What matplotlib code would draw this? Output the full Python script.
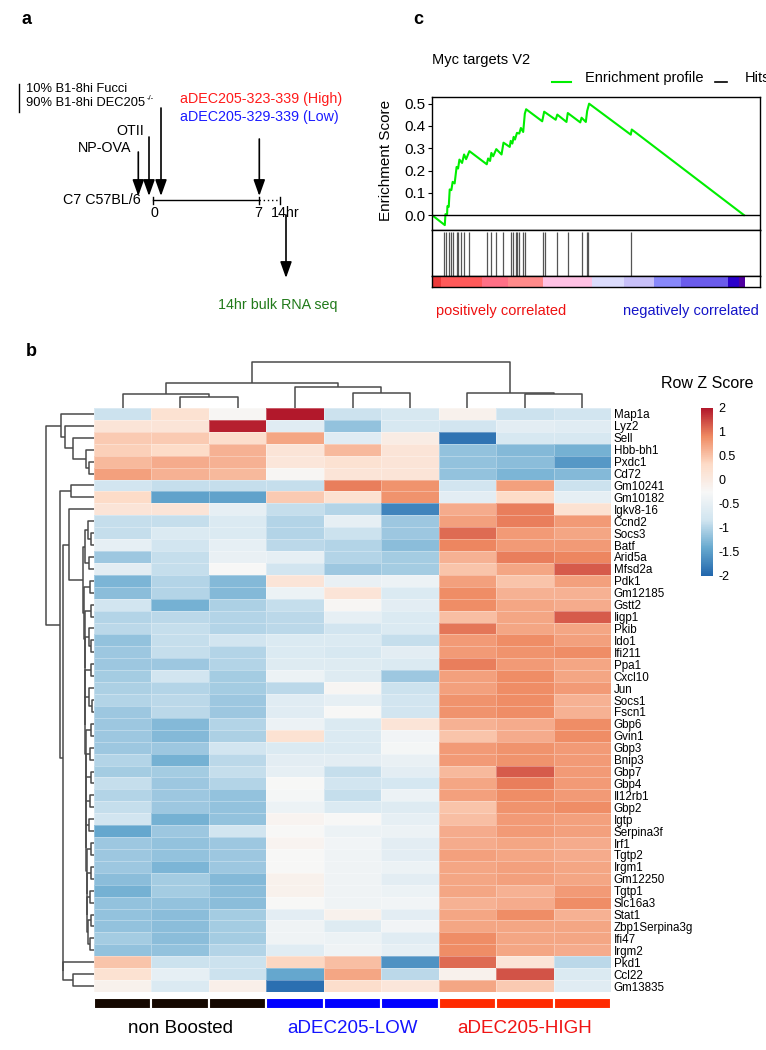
import numpy as np
import matplotlib
matplotlib.use("Agg")
import matplotlib.pyplot as plt
from matplotlib.colors import LinearSegmentedColormap, Normalize
from matplotlib.cm import ScalarMappable

plt.rcParams['font.family'] = ['Liberation Sans', 'DejaVu Sans']

# ---------------- data ----------------
genes = ['Map1a', 'Lyz2', 'Sell', 'Hbb-bh1', 'Pxdc1', 'Cd72', 'Gm10241', 'Gm10182',
         'Igkv8-16', 'Ccnd2', 'Socs3', 'Batf', 'Arid5a', 'Mfsd2a', 'Pdk1', 'Gm12185',
         'Gstt2', 'Iigp1', 'Pkib', 'Ido1', 'Ifi211', 'Ppa1', 'Cxcl10', 'Jun', 'Socs1',
         'Fscn1', 'Gbp6', 'Gvin1', 'Gbp3', 'Bnip3', 'Gbp7', 'Gbp4', 'Il12rb1', 'Gbp2',
         'Igtp', 'Serpina3f', 'Irf1', 'Tgtp2', 'Irgm1', 'Gm12250', 'Tgtp1', 'Slc16a3',
         'Stat1', 'Zbp1Serpina3g', 'Ifi47', 'Irgm2', 'Pkd1', 'Ccl22', 'Gm13835']

zscores = [
    [-0.7, 0.5, 0.05, 2.0, -0.7, -0.55, 0.15, -0.7, -0.65],
    [0.45, 0.45, 1.95, -0.4, -1.05, -0.55, -0.65, -0.35, -0.4],
    [0.8, 0.8, 0.6, 1.1, -0.4, 0.25, -1.85, -0.55, -0.55],
    [0.75, 0.65, 1.0, 0.45, 0.95, 0.45, -1.05, -1.15, -1.25],
    [0.95, 1.05, 1.0, 0.4, 0.5, 0.45, -1.05, -1.1, -1.5],
    [1.15, 1.0, 0.95, 0.05, 0.45, 0.45, -1.05, -1.2, -1.15],
    [-0.65, -0.75, -0.75, -0.75, 1.4, 1.25, -0.65, 1.15, -0.7],
    [0.65, -1.4, -1.4, 0.8, 0.5, 1.25, -0.35, 0.65, -0.3],
    [0.45, 0.45, -0.3, -0.75, -0.85, -1.7, 1.05, 1.4, 0.5],
    [-0.75, -0.75, -0.5, -0.85, -0.3, -1.0, 1.15, 1.4, 1.2],
    [-0.75, -0.5, -0.5, -0.85, -0.7, -1.0, 1.5, 1.2, 1.1],
    [-0.3, -0.65, -0.3, -0.8, -0.85, -1.1, 1.35, 1.2, 1.2],
    [-1.0, -0.75, -0.25, -0.3, -0.85, -0.95, 1.0, 1.4, 1.35],
    [-0.35, -0.75, 0.0, -0.65, -1.0, -0.95, 0.85, 1.1, 1.6],
    [-1.2, -0.85, -1.15, 0.45, -0.25, -0.2, 1.15, 0.85, 1.15],
    [-1.1, -0.85, -1.15, -0.2, 0.45, -0.5, 1.3, 1.0, 1.0],
    [-0.65, -1.25, -0.9, -0.75, 0.05, -0.35, 1.3, 1.1, 1.05],
    [-0.85, -0.8, -0.85, -0.8, -0.3, -0.5, 0.9, 1.1, 1.6],
    [-0.8, -0.75, -0.85, -0.8, -0.65, -0.5, 1.45, 1.1, 1.1],
    [-1.05, -0.75, -0.65, -0.5, -0.5, -0.75, 1.2, 1.3, 1.15],
    [-1.0, -0.75, -0.85, -0.5, -0.55, -0.35, 1.2, 1.25, 1.3],
    [-1.0, -1.0, -0.85, -0.45, -0.45, -0.5, 1.4, 1.2, 1.1],
    [-0.95, -0.65, -0.95, -0.2, -0.45, -1.0, 1.15, 1.3, 1.1],
    [-0.9, -0.85, -0.95, -0.8, 0.05, -0.7, 1.15, 1.3, 1.2],
    [-0.85, -0.8, -1.0, -0.4, -0.3, -0.65, 1.25, 1.3, 1.0],
    [-1.0, -0.8, -1.0, -0.4, 0.0, -0.65, 1.25, 1.3, 1.0],
    [-1.0, -1.15, -0.85, -0.2, -0.5, 0.45, 1.0, 1.05, 1.3],
    [-1.0, -1.15, -0.9, 0.5, -0.5, -0.1, 0.85, 1.05, 1.3],
    [-1.0, -1.0, -0.65, -0.5, -0.5, -0.05, 1.2, 1.25, 1.2],
    [-0.85, -1.25, -0.8, -0.35, -0.35, -0.25, 1.2, 1.25, 1.2],
    [-0.95, -0.95, -0.75, -0.3, -0.75, -0.35, 0.95, 1.6, 1.2],
    [-0.75, -1.0, -0.85, 0.0, -0.65, -0.6, 1.1, 1.4, 1.2],
    [-0.85, -1.0, -1.05, -0.05, -0.75, -0.2, 1.15, 1.3, 1.2],
    [-0.75, -1.0, -1.05, -0.2, -0.5, -0.45, 0.85, 1.25, 1.3],
    [-0.65, -1.25, -1.05, 0.1, 0.0, -0.3, 0.9, 1.2, 1.15],
    [-1.35, -1.0, -0.65, 0.0, -0.2, -0.2, 1.05, 1.2, 1.15],
    [-1.0, -1.05, -1.0, 0.1, -0.1, -0.35, 1.05, 1.1, 1.05],
    [-1.0, -1.05, -1.0, 0.0, -0.15, -0.35, 1.15, 1.1, 1.05],
    [-1.0, -1.2, -1.0, 0.0, -0.15, -0.2, 1.1, 1.15, 1.1],
    [-1.1, -0.95, -1.15, 0.15, -0.15, -0.35, 1.1, 1.15, 1.1],
    [-1.25, -0.95, -1.1, 0.15, -0.15, -0.2, 1.1, 1.0, 1.2],
    [-1.05, -1.05, -1.1, 0.0, -0.15, -0.1, 1.0, 1.05, 1.3],
    [-1.05, -1.1, -0.95, -0.35, 0.15, -0.35, 1.1, 1.3, 1.0],
    [-1.05, -1.1, -0.95, -0.15, -0.45, -0.1, 1.1, 1.1, 1.1],
    [-0.95, -1.1, -0.95, -0.15, -0.2, -0.4, 1.3, 1.1, 1.1],
    [-1.05, -1.05, -0.85, -0.4, -0.15, -0.3, 1.3, 1.1, 1.05],
    [0.85, -0.7, -0.7, 0.7, 0.9, -1.55, 1.5, 0.45, -0.8],
    [0.5, -0.3, -0.7, -1.35, 1.1, -0.8, 0.15, 1.65, -0.5],
    [0.15, -0.5, 0.2, -1.9, 0.6, 0.4, 1.1, 0.8, -0.4],
]

groups = ['non Boosted'] * 3 + ['aDEC205-LOW'] * 3 + ['aDEC205-HIGH'] * 3
group_names = ['non Boosted', 'aDEC205-LOW', 'aDEC205-HIGH']
group_colors = {'non Boosted': '#150800', 'aDEC205-LOW': '#0000ff', 'aDEC205-HIGH': '#ff2a00'}
group_text = {'non Boosted': 'black', 'aDEC205-LOW': '#1414ff', 'aDEC205-HIGH': '#f01414'}

# column tree: (left, right, height); new nodes numbered from 9
col_links = [(1, 2, 10.7), (0, 9, 13.7), (4, 5, 15), (3, 11, 21.3),
             (10, 12, 24.7), (7, 8, 13.7), (6, 14, 14.7), (13, 15, 46)]

# row tree: (left, right, height); new nodes numbered from 49
row_links = [
    (4, 5, 5), (3, 49, 8), (2, 50, 21), (1, 51, 29), (0, 52, 33.3),
    (6, 7, 23),
    (10, 11, 3), (9, 55, 6), (12, 13, 5), (56, 57, 9),
    (14, 15, 4), (16, 17, 3), (19, 20, 3), (18, 61, 5), (21, 22, 3),
    (24, 25, 2), (23, 64, 5), (26, 27, 3), (28, 29, 4), (30, 31, 3),
    (32, 33, 4), (34, 35, 5), (36, 37, 3), (38, 39, 3), (40, 41, 4),
    (42, 43, 3), (44, 45, 4),
    (74, 75, 6.5), (73, 76, 6.8), (72, 77, 7.1), (71, 78, 7.4), (70, 79, 7.7),
    (69, 80, 7.9), (68, 81, 8.1), (67, 82, 8.3), (66, 83, 8.5), (65, 84, 8.7),
    (63, 85, 8.9), (62, 86, 9.1), (60, 87, 9.3), (59, 88, 9.6),
    (58, 89, 10.7), (8, 90, 24.7), (47, 48, 21.3), (46, 92, 30.7),
    (91, 93, 31.5), (54, 94, 34), (53, 95, 48),
]

# GSEA running enrichment score (rank, ES) and hits
es_rank = [0, 39, 41, 46, 47, 51, 54, 59, 63, 69, 75, 79.5, 83.6, 91.7, 97.8, 104, 114,
           167, 171, 177, 181, 186.5, 196, 212, 218, 237, 240, 245, 249, 253, 259, 266,
           271, 278, 283, 287, 336, 342, 377, 382, 410, 414, 452, 456, 469, 473, 479,
           606, 609, 951]
es_val = [0.0, -0.045, 0.004, 0.004, 0.04, 0.037, 0.115, 0.112, 0.149, 0.142, 0.216,
          0.209, 0.249, 0.234, 0.272, 0.251, 0.287, 0.228, 0.254, 0.243, 0.279, 0.264,
          0.296, 0.272, 0.325, 0.306, 0.333, 0.321, 0.351, 0.339, 0.369, 0.366, 0.391,
          0.373, 0.455, 0.475, 0.421, 0.464, 0.428, 0.451, 0.418, 0.458, 0.416, 0.437,
          0.418, 0.467, 0.5, 0.361, 0.384, 0.0]
hits = [38, 43, 52, 57, 65, 75, 78, 87, 98, 114, 169, 180, 196, 216, 240, 247, 255,
        260, 266, 278, 283, 339, 343, 382, 414, 457, 472, 477, 607]
rank_edges = [0, 26, 153, 231, 339, 489, 584, 676, 760, 903, 935, 953, 1000]
rank_colors = ['#ec3a3a', '#ff5a5a', '#ff7086', '#ff8a8a', '#ffc2e4', '#dcdcfc',
               '#c8c0f8', '#8888fa', '#6b5cec', '#2a00cc', '#5000a0', '#ffffff']
es_ticks = [0.0, 0.1, 0.2, 0.3, 0.4, 0.5]

cbar_labels = ['-2', '-1.5', '-1', '-0.5', '0', '0.5', '1', '2']

# ---------------- figure ----------------
W, H = 766, 1050
fig = plt.figure(figsize=(W / 100, H / 100), dpi=100)


def box(x0, y0, x1, y1):
    return fig.add_axes([x0 / W, 1 - y1 / H, (x1 - x0) / W, (y1 - y0) / H])


ov = fig.add_axes([0, 0, 1, 1])
ov.set_xlim(0, W)
ov.set_ylim(H, 0)
ov.axis('off')

# ---------- panel a ----------
ov.text(22, 20, 'a', fontsize=13, fontweight='bold', va='center')
ov.plot([19.3, 19.3], [84, 112], color='black', lw=1)
ov.text(26, 89, '10% B1-8hi Fucci', fontsize=9.3, va='center')
t90 = ov.text(26, 102.5, '90% B1-8hi DEC205', fontsize=9.3, va='center')
ov.annotate('-/-', xy=(1, 0.8), xycoords=t90, xytext=(1, 0), textcoords='offset points',
            fontsize=5.5, va='center', ha='left')
ov.text(180, 99.5, 'aDEC205-323-339 (High)', fontsize=10.3, va='center', color='#ff1a1a')
ov.text(180, 117.5, 'aDEC205-329-339 (Low)', fontsize=10.3, va='center', color='#1a1aff')
ov.text(116, 131, 'OTII', fontsize=10.3, va='center')
ov.text(78, 148.5, 'NP-OVA', fontsize=10.3, va='center')
ov.text(63, 200, 'C7 C57BL/6', fontsize=10.3, va='center')
ov.text(154, 213, '0', fontsize=10.3, va='center', ha='center')
ov.text(258, 213, '7', fontsize=10.3, va='center', ha='center')
ov.text(271, 213, '14hr', fontsize=10.3, va='center')
ov.text(218, 305, '14hr bulk RNA seq', fontsize=10.3, va='center', color='#217a1a')

arrow = dict(arrowstyle='-|>,head_length=0.7,head_width=0.25', mutation_scale=14, lw=1.2,
             color='black', shrinkA=0, shrinkB=0)
for ax_x, y_top, y_tip in [(138.3, 152, 196), (149, 137, 196), (161, 108, 196),
                            (259.3, 139, 196), (286, 215, 278)]:
    ov.annotate('', xy=(ax_x, y_tip), xytext=(ax_x, y_top), arrowprops=arrow)

ov.plot([153.3, 259.3], [200, 200], color='black', lw=1)
ov.plot([259.3, 280], [200, 200], color='black', lw=1, ls=(0, (1, 2)))
for tx in [153.3, 259.3, 280]:
    ov.plot([tx, tx], [196.5, 203.5], color='black', lw=1)

# ---------- panel c ----------
ov.text(413, 20, 'c', fontsize=13, fontweight='bold', va='center')
ov.text(432, 60, 'Myc targets V2', fontsize=10.5, va='center')
ov.plot([552, 571], [82, 82], color='#00ee00', lw=1.5)
ov.text(585, 78, 'Enrichment profile', fontsize=10.5, va='center')
ov.plot([715, 727], [82, 82], color='black', lw=1.2)
ov.text(745, 78, 'Hits', fontsize=10.5, va='center')
ov.text(386, 160, 'Enrichment Score', fontsize=11, va='center', ha='center', rotation=90)
ov.text(436, 311, 'positively correlated', fontsize=10.5, va='center', color='#ee1111')
ov.text(623, 311, 'negatively correlated', fontsize=10.5, va='center', color='#1515c8')

ax_es = box(432, 97, 760, 230)
ax_es.plot(es_rank, es_val, color='#00ee00', lw=1.5)
ax_es.axhline(0, color='black', lw=1)
ax_es.set_xlim(0, 1000)
ax_es.set_ylim(-0.067, 0.53)
ax_es.set_xticks([])
ax_es.set_yticks(es_ticks)
ax_es.set_yticklabels(['%.1f' % t for t in es_ticks])
ax_es.tick_params(axis='y', labelsize=11, length=3, pad=2)

ax_hit = box(432, 230, 760, 276)
ax_hit.vlines(hits, 0, 0.95, color='#555555', lw=0.9)
ax_hit.set_xlim(0, 1000)
ax_hit.set_ylim(0, 1)
ax_hit.set_xticks([])
ax_hit.set_yticks([])

ax_rk = box(432, 276, 760, 287)
for k, c in enumerate(rank_colors):
    ax_rk.axvspan(rank_edges[k], rank_edges[k + 1], color=c, lw=0)
ax_rk.set_xlim(0, 1000)
ax_rk.set_ylim(0, 1)
ax_rk.set_xticks([])
ax_rk.set_yticks([])
for a in (ax_es, ax_hit, ax_rk):
    for s in a.spines.values():
        s.set_linewidth(1)

# ---------- panel b ----------
ov.text(26, 352, 'b', fontsize=13, fontweight='bold', va='center')
ov.text(661, 383, 'Row Z Score', fontsize=11.5, va='center')

cmap = LinearSegmentedColormap.from_list(
    'rdbu7', ['#2166ac', '#67a9cf', '#d1e5f0', '#f7f7f7', '#fddbc7', '#ef8a62', '#b2182b'])
norm = Normalize(-2, 2)

Z = np.array(zscores)
n_rows, n_cols = Z.shape

ax_hm = box(94, 408, 611, 992)
ax_hm.pcolormesh(np.arange(n_cols + 1), np.arange(n_rows + 1), Z, cmap=cmap, norm=norm,
                 edgecolors=(1, 1, 1, 0.3), linewidth=0.5)
ax_hm.set_xlim(0, n_cols)
ax_hm.set_ylim(n_rows, 0)
ax_hm.set_xticks([])
ax_hm.yaxis.tick_right()
ax_hm.set_yticks(np.arange(n_rows) + 0.5)
ax_hm.set_yticklabels(genes)
ax_hm.tick_params(axis='y', length=0, pad=2, labelsize=8.4)
for s in ax_hm.spines.values():
    s.set_visible(False)


def dendro(ax, links, n, orient):
    pos = {i: i + 0.5 for i in range(n)}
    hgt = {i: 0.0 for i in range(n)}
    for k, (a, b, h) in enumerate(links):
        hs = [hgt[a], h, h, hgt[b]]
        ps = [pos[a], pos[a], pos[b], pos[b]]
        if orient == 'left':
            ax.plot(hs, ps, color='#4a4a4a', lw=1.1, solid_capstyle='butt')
        else:
            ax.plot(ps, hs, color='#4a4a4a', lw=1.1, solid_capstyle='butt')
        pos[n + k] = (pos[a] + pos[b]) / 2
        hgt[n + k] = h
    ax.axis('off')


ax_rd = box(40, 408, 94, 992)
dendro(ax_rd, row_links, n_rows, 'left')
ax_rd.set_xlim(54, 0)
ax_rd.set_ylim(n_rows, 0)

ax_cd = box(94, 355, 611, 408)
dendro(ax_cd, col_links, n_cols, 'top')
ax_cd.set_xlim(0, n_cols)
ax_cd.set_ylim(0, 53)

cax = box(701, 408, 713, 576)
cb = fig.colorbar(ScalarMappable(norm=norm, cmap=cmap), cax=cax)
cb.set_ticks(np.linspace(-2, 2, len(cbar_labels)))
cb.set_ticklabels(cbar_labels)
cb.ax.tick_params(length=0, labelsize=9, pad=4)
cb.outline.set_visible(False)

ax_grp = box(94, 998, 611, 1009)
for j, g in enumerate(groups):
    ax_grp.bar(j + 0.5, 1, width=1, color=group_colors[g], edgecolor='white', lw=1.5)
for g in group_names:
    idx = [j for j, gg in enumerate(groups) if gg == g]
    ax_grp.text(np.mean(idx) + 0.5, -1.75, g, fontsize=13.5, ha='center', va='center',
                color=group_text[g])
ax_grp.set_xlim(0, n_cols)
ax_grp.set_ylim(0, 1)
ax_grp.axis('off')

fig.savefig('out.png', dpi=100)
